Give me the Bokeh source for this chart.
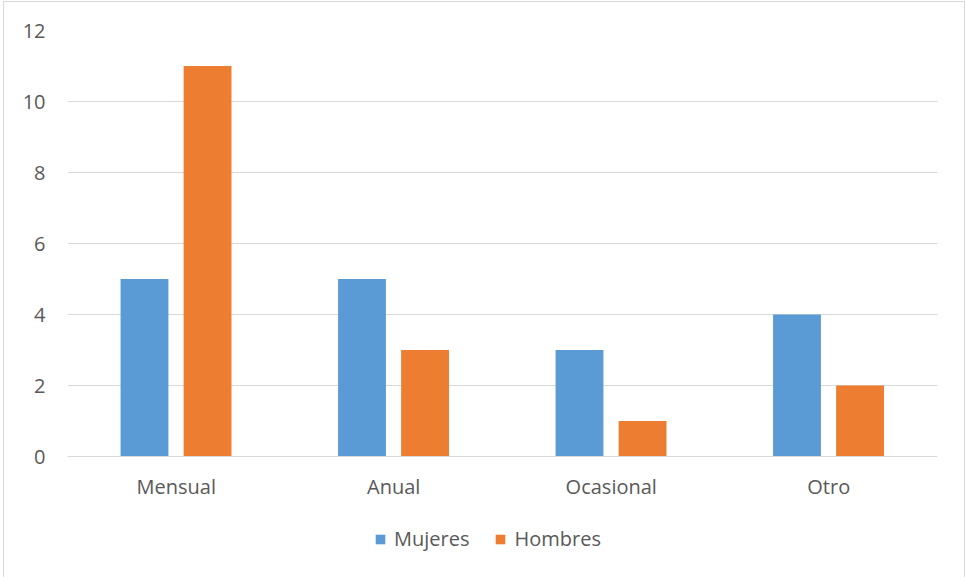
from bokeh.plotting import figure
from bokeh.models import (FactorRange, Range1d, Legend, LegendItem,
                          FixedTicker, ColumnDataSource)
from bokeh.transform import dodge
from bokeh.embed import file_html
from bokeh.resources import INLINE

# Data
categories = ["Mensual", "Anual", "Ocasional", "Otro"]
mujeres = [5, 5, 3, 4]
hombres = [11, 3, 1, 2]
y_ticks = [0, 2, 4, 6, 8, 10, 12]

BLUE = "#5B9BD5"
ORANGE = "#ED7D31"
GRID = "#D9D9D9"
TEXT = "#595959"
FONT = "Open Sans"
FS = "20px"

source = ColumnDataSource(dict(cat=categories, mujeres=mujeres, hombres=hombres))

# The plotting frame reaches down past the category labels so the legend
# can sit inside it; the value axis keeps 35.5 px per unit (0..12 over 426 px).
FRAME_H = 552
y_bottom = -(FRAME_H - 426) / 35.5

p = figure(frame_width=870, frame_height=FRAME_H,
           x_range=FactorRange(*categories, range_padding=0),
           y_range=Range1d(y_bottom, 12), output_backend="svg",
           toolbar_location=None,
           min_border_left=63, min_border_right=27, min_border_top=28,
           min_border_bottom=0, outline_line_color=None,
           styles={"border": "1px solid #D9D9D9", "margin-left": "3px",
                   "margin-top": "1px"})

r1 = p.vbar(x=dodge("cat", -0.146, range=p.x_range), top="mujeres", width=0.22,
            source=source, fill_color=BLUE, line_color=None)
r2 = p.vbar(x=dodge("cat", 0.144, range=p.x_range), top="hombres", width=0.22,
            source=source, fill_color=ORANGE, line_color=None)

# Axes
p.yaxis.ticker = FixedTicker(ticks=y_ticks)
p.yaxis.axis_line_color = None
p.yaxis.major_tick_line_color = None
p.yaxis.minor_tick_line_color = None
p.yaxis.major_label_standoff = 16
p.yaxis.major_label_text_font = FONT
p.yaxis.major_label_text_font_size = FS
p.yaxis.major_label_text_color = TEXT

p.xaxis.fixed_location = 0
p.xaxis.axis_line_color = GRID
p.xaxis.axis_line_width = 1
p.xaxis.major_tick_line_color = None
p.xaxis.minor_tick_line_color = None
p.xaxis.major_label_standoff = 10
p.xaxis.major_label_text_font = FONT
p.xaxis.major_label_text_font_size = FS
p.xaxis.major_label_text_color = TEXT

p.xgrid.grid_line_color = None
p.ygrid.grid_line_color = GRID
p.ygrid.grid_line_width = 1

# Legend under the category labels
legend = Legend(items=[LegendItem(label="Mujeres", renderers=[r1]),
                       LegendItem(label="Hombres", renderers=[r2])],
                orientation="horizontal", location=(307, 30),
                glyph_width=12, glyph_height=12, label_standoff=8, spacing=25,
                padding=0, margin=0, border_line_color=None,
                background_fill_alpha=0,
                label_text_font=FONT, label_text_font_size=FS,
                label_text_color=TEXT)
p.add_layout(legend)

open("out.html", "w").write(file_html(p, INLINE))
